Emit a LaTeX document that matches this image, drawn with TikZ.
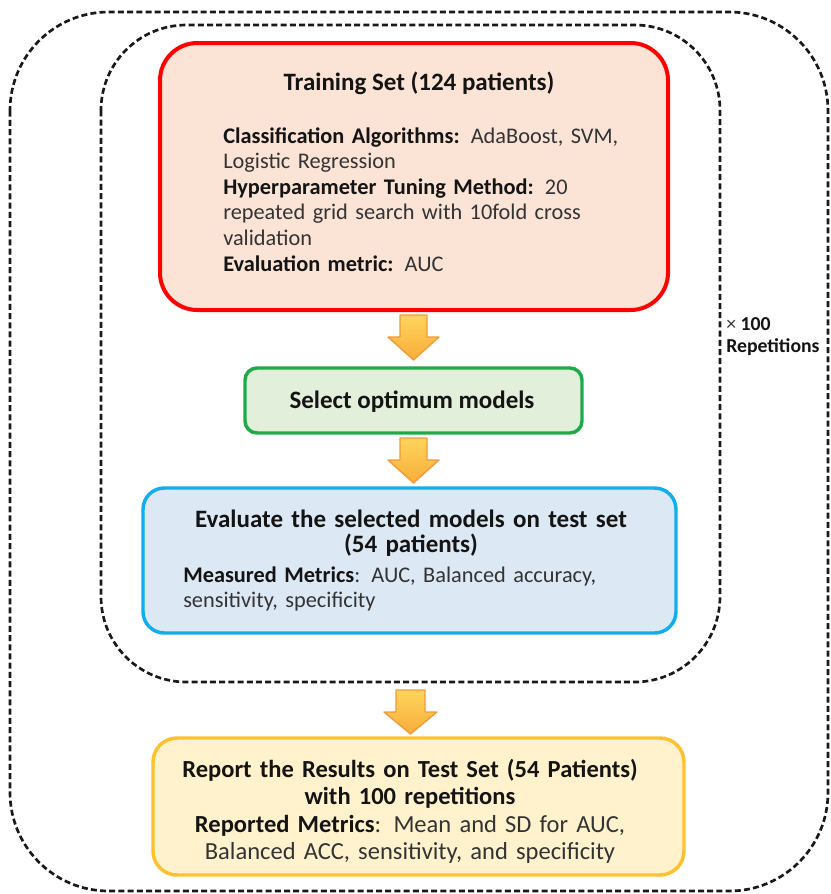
\documentclass[tikz,border=0pt]{standalone}
\usepackage{fontspec}
\setmainfont{Carlito}
\usetikzlibrary{calc}
\definecolor{redb}{HTML}{FF0000}
\definecolor{redf}{HTML}{FBE3D6}
\definecolor{greenb}{HTML}{1FAA4A}
\definecolor{greenf}{HTML}{E2EFDA}
\definecolor{blueb}{HTML}{11AEEB}
\definecolor{bluef}{HTML}{DCE8F4}
\definecolor{yelb}{HTML}{FFC12E}
\definecolor{yelf}{HTML}{FFF2CC}
\definecolor{txt}{HTML}{141414}
\definecolor{txtr}{HTML}{333333}
\definecolor{arrtop}{HTML}{FFD45C}
\definecolor{arrbot}{HTML}{F7AE3A}
\definecolor{arrline}{HTML}{F09A3A}
\newcommand\bt[1]{{\bfseries\color{txt}#1}}
\begin{document}
\begin{tikzpicture}[x=0.75pt,y=-0.75pt,
  box/.style={draw, line width=2.6pt, inner sep=0pt},
  dashbox/.style={draw=black!90, line width=2pt, dash pattern=on 4.5pt off 2.4pt},
  barrow/.style={draw=arrline, line width=1pt, top color=arrtop, bottom color=arrbot, line join=round},
  headtxt/.style={font=\fontsize{18.75}{19}\selectfont\bfseries, text=txt, inner sep=0pt},
  bodytxt/.style={font=\fontsize{16.75}{19.2}\selectfont, text=txtr, inner sep=0pt, align=left}
]
\useasboundingbox (0,0) rectangle (831,894);

% dashed frames
\draw[dashbox, rounded corners=74pt] (10,12) rectangle (828,891);
\draw[dashbox, rounded corners=64pt] (101,25) rectangle (720,682);

% boxes
\node[box, draw=redb, line width=3pt, fill=redf, rounded corners=28pt,
      minimum width=508*0.75pt, minimum height=267*0.75pt] (train) at (414,176.5) {};
\node[box, draw=greenb, fill=greenf, rounded corners=9pt,
      minimum width=337*0.75pt, minimum height=65*0.75pt] (select) at (413.5,400.5) {};
\node[box, draw=blueb, fill=bluef, rounded corners=16pt,
      minimum width=533*0.75pt, minimum height=145*0.75pt] (evaluate) at (409.5,560.5) {};
\node[box, draw=yelb, fill=yelf, rounded corners=18pt,
      minimum width=531*0.75pt, minimum height=137*0.75pt] (report) at (418.5,806.5) {};

% texts
\node[headtxt, anchor=base] (traint) at (419,90) {Training Set (124 patients)};
\node[bodytxt, anchor=base west, text width=440*0.75pt] (trainb) at (223,143)
 {\bt{Classification Algorithms:} AdaBoost, SVM,\\
  Logistic Regression\\
  \bt{Hyperparameter Tuning Method:} 20\\
  repeated grid search with 10fold cross\\
  validation\\
  \bt{Evaluation metric:} AUC};
\node[headtxt, anchor=base] (selectt) at (412,408) {Select optimum models};
\node[headtxt, anchor=base, align=center, text width=520*0.75pt,
      font=\fontsize{18.75}{18.75}\selectfont\bfseries] (evalt) at (411,527)
 {Evaluate the selected models on test set\\ (54 patients)};
\node[bodytxt, anchor=base west, text width=500*0.75pt] (evalb) at (183,582)
 {\bt{Measured Metrics}: AUC, Balanced accuracy,\\ sensitivity, specificity};
\node[anchor=base, align=center, text width=520*0.75pt, inner sep=0pt,
      font=\fontsize{18.4}{20.7}\selectfont, text=txtr] (reportt) at (410,777)
 {\bt{Report the Results on Test Set (54 Patients)}\\
  \bt{with 100 repetitions}\\
  \bt{Reported Metrics}: Mean and SD for AUC,\\
  Balanced ACC, sensitivity, and specificity};
\node[anchor=base west, align=left, inner sep=0pt, text=txt,
      font=\fontsize{14.8}{16}\selectfont] (rep) at (726,352)
 {{\color{txtr}×} \textbf{100}\\ \textbf{Repetitions}};

% block arrows
\coordinate (a1) at (400,315);
\coordinate (a2) at (400,438);
\coordinate (a3) at (396,690);
\draw[barrow] (a1) -- ++(27,0) -- ++(0,22) -- ++(12,0) -- ++(-25.5,23) -- ++(-25.5,-23) -- ++(12,0) -- cycle;
\draw[barrow] (a2) -- ++(27,0) -- ++(0,22) -- ++(12,0) -- ++(-25.5,23) -- ++(-25.5,-23) -- ++(12,0) -- cycle;
\draw[barrow] (a3) -- ++(29,0) -- ++(0,22) -- ++(12,0) -- ++(-26.5,22) -- ++(-26.5,-22) -- ++(12,0) -- cycle;
\end{tikzpicture}
\end{document}
